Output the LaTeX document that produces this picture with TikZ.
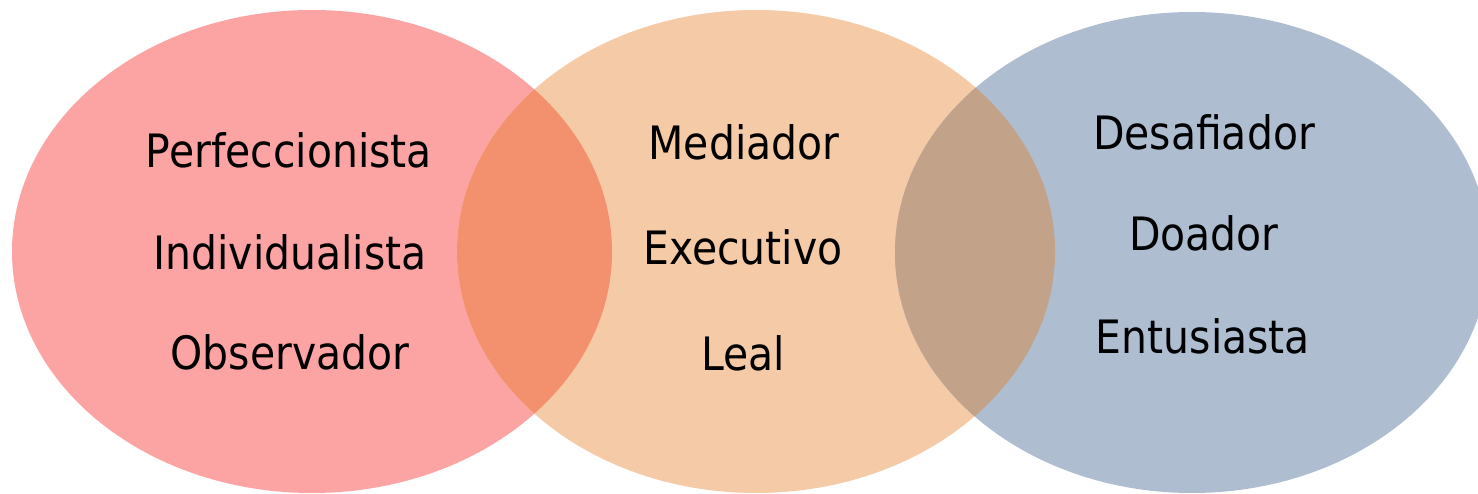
\documentclass[tikz,border=0pt]{standalone}
\usepackage{fontspec}
\setmainfont{DejaVu Sans}[FakeStretch=0.89]
\definecolor{cLeft}{RGB}{252,163,163}
\definecolor{cMid}{RGB}{245,203,167}
\definecolor{cRight}{RGB}{174,189,208}
\definecolor{cOvA}{RGB}{243,145,110}
\definecolor{cOvB}{RGB}{194,162,137}
\tikzset{
  lbl/.style={anchor=base, inner sep=0pt, text=black, font=\fontsize{46}{46}\selectfont},
}
\begin{document}
\begin{tikzpicture}[x=1pt,y=-1pt]
\useasboundingbox (0,0) rectangle (1478,494);
\clip (0,0) rectangle (1478,494);
\def\ellL{(312,251.5) ellipse [x radius=300pt, y radius=241.5pt]}
\def\ellM{(756,251.5) ellipse [x radius=299pt, y radius=241.5pt]}
\def\ellR{(1192,252.5) ellipse [x radius=297pt, y radius=240.5pt]}
\fill[cLeft] \ellL;
\fill[cMid] \ellM;
\fill[cRight] \ellR;
\begin{scope}
  \clip \ellL;
  \fill[cOvA] \ellM;
\end{scope}
\begin{scope}
  \clip \ellM;
  \fill[cOvB] \ellR;
\end{scope}
\node[lbl] (perf) at (289,168) {Perfeccionista};
\node[lbl] (indi) at (290,270) {Individualista};
\node[lbl] (obse) at (290,369) {Observador};
\node[lbl] (medi) at (744,160) {Mediador};
\node[lbl] (exec) at (743,265) {Executivo};
\node[lbl] (leal) at (743,370.5) {Leal};
\node[lbl] (desa) at (1204,150) {Desafiador};
\node[lbl] (doad) at (1204,251) {Doador};
\node[lbl] (entu) at (1203,353) {Entusiasta};
\end{tikzpicture}
\end{document}
